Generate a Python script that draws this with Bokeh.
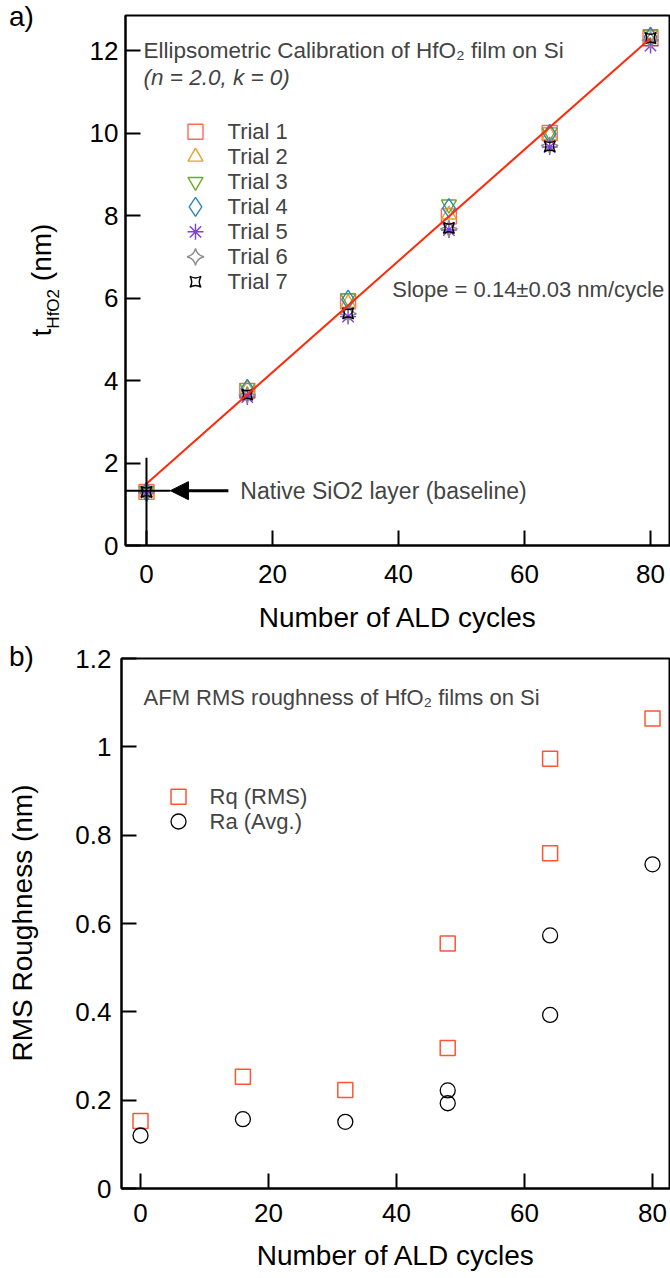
import numpy as np
from bokeh.plotting import figure
from bokeh.layouts import column, row
from bokeh.models import Label, Arrow, NormalHead, FixedTicker, Range1d, Div
from bokeh.embed import file_html
from bokeh.resources import INLINE

# ---------------- data ----------------
cycles = [0, 16, 32, 48, 64, 80]
trial_names = ["Trial 1", "Trial 2", "Trial 3", "Trial 4", "Trial 5", "Trial 6", "Trial 7"]
trial1 = [1.30, 3.75, 5.92, 7.98, 10.00, 12.30]
trial2 = [1.30, 3.78, 5.88, 8.02, 9.95, 12.36]
trial3 = [1.33, 3.82, 6.00, 8.27, 10.02, 12.40]
trial4 = [1.30, 3.80, 5.96, 8.18, 9.98, 12.33]
trial5 = [1.28, 3.60, 5.55, 7.65, 9.66, 12.12]
trial6 = [1.30, 3.65, 5.62, 7.68, 9.70, 12.25]
trial7 = [1.30, 3.66, 5.63, 7.70, 9.68, 12.30]
fit_x = [0, 80]
fit_y = [1.5, 12.3]
baseline_value = 1.33

rough_cycles = [0, 16, 32, 48, 48, 64, 64, 80]
rq_values = [0.153, 0.253, 0.223, 0.555, 0.318, 0.973, 0.759, 1.064]
ra_values = [0.120, 0.157, 0.151, 0.222, 0.193, 0.573, 0.393, 0.734]

x_ticks = [0, 20, 40, 60, 80]
top_y_ticks = [0, 2, 4, 6, 8, 10, 12]
bot_y_ticks = [0, 0.2, 0.4, 0.6, 0.8, 1.0, 1.2]
bot_y_labels = ["0", "0.2", "0.4", "0.6", "0.8", "1", "1.2"]

# ---------------- style ----------------
FONT = "Liberation Sans"
trial_markers = ["square", "triangle", "inverted_triangle", "diamond", "asterisk", "square_pin", "square_pin"]
trial_colors = ["#FF6A55", "#E6A033", "#6DAA2C", "#2B87B8", "#7D3FE0", "#8C8C8C", "#000000"]
trial_sizes = [15, 15, 15, 19, 16, 12, 11]
trial_angles = [0, 0, 0, 0, 0, np.pi / 4, 0]
RQ_COLOR = "#FF5533"
SIDE_W = 60


def style_axes(p, yticks, ylabels=None):
    p.xgrid.visible = False
    p.ygrid.visible = False
    p.outline_line_color = "black"
    p.outline_line_width = 2
    p.background_fill_color = "white"
    p.border_fill_color = "white"
    for ax in (p.xaxis, p.yaxis):
        ax.axis_line_width = 2
        ax.axis_line_color = "black"
        ax.major_tick_in = 15
        ax.major_tick_out = 0
        ax.major_tick_line_width = 2
        ax.minor_tick_line_color = None
        ax.major_label_text_font = FONT
        ax.major_label_text_font_size = "26px"
        ax.major_label_text_color = "black"
        ax.axis_label_text_font = FONT
        ax.axis_label_text_font_size = "28px"
        ax.axis_label_text_font_style = "normal"
        ax.axis_label_text_color = "black"
    p.xaxis.ticker = FixedTicker(ticks=x_ticks)
    p.yaxis.ticker = FixedTicker(ticks=yticks)
    if ylabels is not None:
        p.yaxis.major_label_overrides = {t: l for t, l in zip(yticks, ylabels)}


def side_div(height, inner):
    html = ('<div style="position:relative;width:%dpx;height:%dpx;font-family:\'Liberation Sans\',Arial,sans-serif;'
            'color:black;">%s</div>' % (SIDE_W, height, inner))
    return Div(text=html, width=SIDE_W, height=height, margin=0)


# ---------------- panel a ----------------
H1 = 643
p1 = figure(width=670 - SIDE_W, height=H1, output_backend="svg", toolbar_location=None,
            x_range=Range1d(-3.33, 83.17), y_range=Range1d(0, 12.85),
            min_border_left=65, min_border_right=0, min_border_top=15, min_border_bottom=98)
style_axes(p1, top_y_ticks)
p1.xaxis.axis_label = "Number of ALD cycles"
p1.xaxis.major_label_standoff = 19
p1.xaxis.axis_label_standoff = 16
p1.yaxis.major_label_standoff = 7

trials = [trial1, trial2, trial3, trial4, trial5, trial6, trial7]
for vals, mk, col, sz, ang in zip(trials, trial_markers, trial_colors, trial_sizes, trial_angles):
    p1.scatter(cycles, vals, marker=mk, size=sz, angle=ang, line_color=col,
               fill_color=None, line_width=1.4)

p1.line(fit_x, fit_y, line_color="#FF2A0A", line_width=2)

# baseline crosshair + arrow
arrow_tip_x, arrow_tail_x = 3.8, 13.0
p1.segment(x0=[cycles[0]], y0=[0], x1=[cycles[0]], y1=[2.13], line_color="black", line_width=2)
p1.segment(x0=[p1.x_range.start], y0=[baseline_value], x1=[arrow_tip_x], y1=[baseline_value],
           line_color="black", line_width=2)
p1.add_layout(Arrow(end=NormalHead(size=18, fill_color="black", line_color="black"),
                    x_start=arrow_tail_x, y_start=baseline_value, x_end=arrow_tip_x, y_end=baseline_value,
                    line_width=3, line_color="black"))
p1.add_layout(Label(x=14.9, y=baseline_value, text="Native SiO2 layer (baseline)",
                    text_font=FONT, text_font_size="23px", text_baseline="middle"))

# annotations
p1.add_layout(Label(x=-0.47, y=12.0, text="Ellipsometric Calibration of HfO\u2082 film on Si",
                    text_font=FONT, text_font_size="22.5px", text_baseline="middle"))
p1.add_layout(Label(x=-0.47, y=11.35, text="(n = 2.0, k = 0)", text_font=FONT,
                    text_font_size="22.5px", text_font_style="italic", text_baseline="middle"))
p1.add_layout(Label(x=39.0, y=6.2, text="Slope = 0.14\u00b10.03 nm/cycle",
                    text_font=FONT, text_font_size="22px", text_baseline="middle"))

# legend (manual)
leg_x_marker, leg_x_text = 7.78, 12.86
leg_y0, leg_dy = 10.03, 0.606
for i, (name, mk, col, sz, ang) in enumerate(zip(trial_names, trial_markers, trial_colors, trial_sizes, trial_angles)):
    yy = leg_y0 - i * leg_dy
    p1.scatter([leg_x_marker], [yy], marker=mk, size=sz, angle=ang, line_color=col,
               fill_color=None, line_width=1.4)
    p1.add_layout(Label(x=leg_x_text, y=yy, text=name, text_font=FONT, text_font_size="22px",
                        text_baseline="middle"))

div_a = side_div(H1,
    '<div style="position:absolute;left:9px;top:3px;font-size:28px;line-height:1;">a)</div>'
    '<div style="position:absolute;left:28px;top:545px;width:530px;text-align:center;'
    'transform:rotate(-90deg);transform-origin:0 0;white-space:nowrap;font-size:28px;line-height:1;">'
    't<span style="font-size:17px;position:relative;top:8px;">HfO2</span> (nm)</div>')

# ---------------- panel b ----------------
H2 = 1278 - H1
p2 = figure(width=670 - SIDE_W, height=H2, output_backend="svg", toolbar_location=None,
            x_range=Range1d(-2.97, 82.81), y_range=Range1d(0, 1.2),
            min_border_left=61, min_border_right=0, min_border_top=15, min_border_bottom=90)
style_axes(p2, bot_y_ticks, bot_y_labels)
p2.xaxis.axis_label = "Number of ALD cycles"
p2.xaxis.major_label_standoff = 15
p2.xaxis.axis_label_standoff = 15
p2.yaxis.major_label_standoff = 10

p2.scatter(rough_cycles, rq_values, marker="square", size=15, line_color=RQ_COLOR,
           fill_color=None, line_width=1.5)
p2.scatter(rough_cycles, ra_values, marker="circle", size=15, line_color="black",
           fill_color=None, line_width=1.3)

p2.add_layout(Label(x=0.47, y=1.112, text="AFM RMS roughness of HfO\u2082 films on Si",
                    text_font=FONT, text_font_size="22px", text_baseline="middle"))
p2.scatter([5.94], [0.887], marker="square", size=15, line_color=RQ_COLOR, fill_color=None, line_width=1.5)
p2.scatter([5.94], [0.831], marker="circle", size=15, line_color="black", fill_color=None, line_width=1.3)
p2.add_layout(Label(x=10.78, y=0.887, text="Rq (RMS)", text_font=FONT, text_font_size="22px",
                    text_baseline="middle"))
p2.add_layout(Label(x=10.78, y=0.831, text="Ra (Avg.)", text_font=FONT, text_font_size="22px",
                    text_baseline="middle"))

div_b = side_div(H2,
    '<div style="position:absolute;left:9px;top:0px;font-size:28px;line-height:1;">b)</div>'
    '<div style="position:absolute;left:9px;top:545px;width:530px;text-align:center;'
    'transform:rotate(-90deg);transform-origin:0 0;white-space:nowrap;font-size:28px;line-height:1;">'
    'RMS Roughness (nm)</div>')

layout = column(row(div_a, p1, spacing=0), row(div_b, p2, spacing=0), spacing=0)
open("out.html", "w").write(file_html(layout, INLINE))
